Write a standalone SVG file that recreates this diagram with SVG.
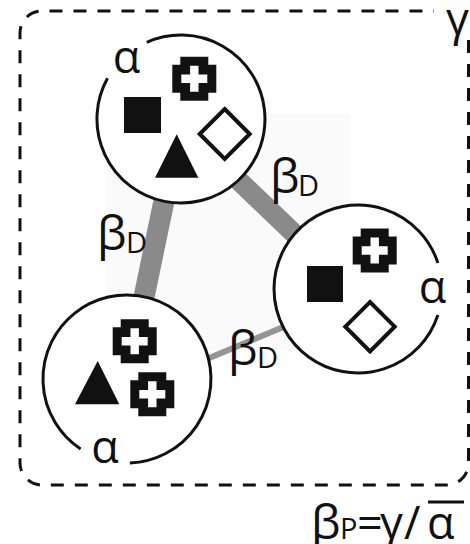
<svg xmlns="http://www.w3.org/2000/svg" width="470" height="544" viewBox="0 0 470 544">
<style>
.t{font-family:"Open Sans","DejaVu Sans",sans-serif;fill:#111}
.big{font-size:45px}
.beta{font-size:47px}
.sub{font-size:29px}
.node{fill:#fff;stroke:#111;stroke-width:3}
.blk{fill:#111}
.dia{fill:#fff;stroke:#111;stroke-width:4}
.bar{stroke:#8a8a8a;stroke-linecap:butt;fill:none}
</style>
<defs>
<g id="cross">
<path d="M-14,-22H14V-14H22V14H14V22H-14V14H-22V-14H-14Z" fill="#111"/>
<path d="M-4.2,-13H4.2V-4.2H13V4.2H4.2V13H-4.2V4.2H-13V-4.2H-4.2Z" fill="#fff"/>
</g>
</defs>
<rect width="470" height="544" fill="#fff"/>
<rect x="106" y="114" width="244" height="236" fill="#fafafa"/>
<g id="frame">
<path d="M468.5,40V463A22,22 0 0 1 446.5,485H42A22,22 0 0 1 20,463V33A22,22 0 0 1 42,11H434" fill="none" stroke="#111" stroke-width="3" stroke-dasharray="13 11"/>
<text class="t big" x="446" y="35">γ</text>
</g>
<g id="connectors">
<line class="bar" x1="181" y1="119" x2="127" y2="379" stroke-width="21"/>
<line class="bar" x1="181" y1="125" x2="358" y2="295" stroke-width="20"/>
<line class="bar" x1="190" y1="366" x2="300" y2="320" stroke-width="6" style="stroke:#959595"/>
<text class="t"><tspan class="beta" x="97" y="250">β</tspan><tspan class="sub" x="126" y="253">D</tspan></text>
<text class="t"><tspan class="beta" x="270" y="193">β</tspan><tspan class="sub" x="298" y="196">D</tspan></text>
<text class="t"><tspan class="beta" x="228" y="365">β</tspan><tspan class="sub" x="257" y="368">D</tspan></text>
</g>
<g id="node-top">
<circle cx="181" cy="119" r="84" fill="#fff"/>
<path class="node" d="M146.8,42.3A84,84 0 1 1 107.5,78.3" fill="none"/>
<text class="t big" x="126.5" y="73" text-anchor="middle">α</text>
<use href="#cross" x="194.3" y="78.7"/>
<rect class="blk" x="124" y="97" width="37" height="36"/>
<polygon class="blk" points="176.7,134.3 198.3,177.7 155,177.7"/>
<polygon class="dia" points="224.7,109 249.7,134 224.7,159 199.7,134"/>
</g>
<g id="node-right">
<circle cx="358" cy="289" r="84" fill="#fff"/>
<path class="node" d="M437.9,315A84,84 0 1 1 437.9,263" fill="none"/>
<text class="t big" x="432.5" y="303" text-anchor="middle">α</text>
<use href="#cross" x="374.7" y="250.5"/>
<rect class="blk" x="307" y="266" width="36" height="36"/>
<polygon class="dia" points="370,302 394.7,326.7 370,351.4 345.3,326.7"/>
</g>
<g id="node-bottom">
<circle cx="127" cy="379" r="84" fill="#fff"/>
<path class="node" d="M80.6,449A84,84 0 1 1 129.9,462.9" fill="none"/>
<text class="t big" x="105" y="463" text-anchor="middle">α</text>
<use href="#cross" x="134.7" y="341.3"/>
<use href="#cross" x="152.3" y="394.3"/>
<polygon class="blk" points="97.7,361 119.3,404.3 75,404.3"/>
</g>
<g id="formula">
<text class="t"><tspan class="beta" x="311" y="539">β</tspan><tspan class="sub" x="340" y="539">P</tspan><tspan class="big" x="357" y="539">=</tspan><tspan class="big" x="380" y="539">γ</tspan><tspan class="big" x="404" y="539">/</tspan><tspan class="big" x="427" y="539">α</tspan></text>
<line x1="428" y1="502" x2="464" y2="502" stroke="#111" stroke-width="3"/>
</g>
</svg>
